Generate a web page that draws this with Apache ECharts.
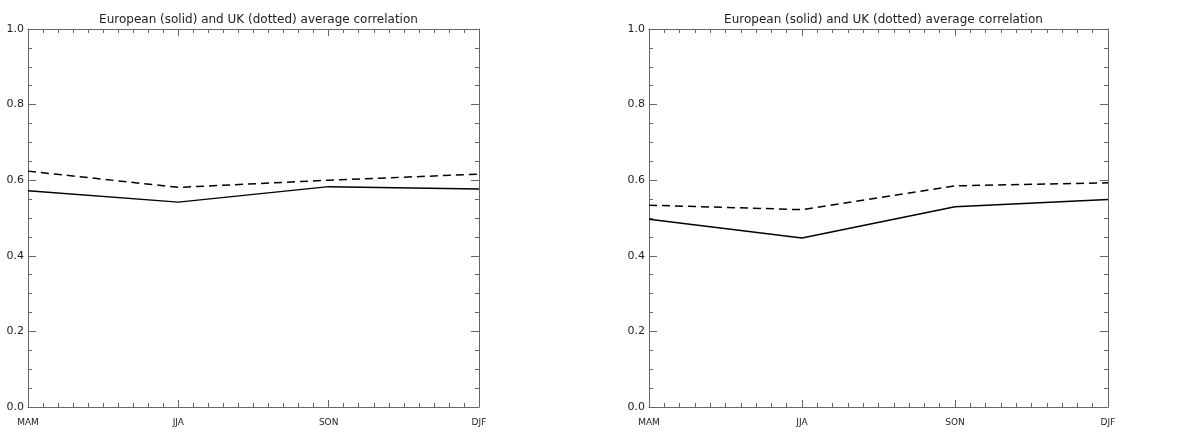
<!DOCTYPE html>
<html>
<head>
<meta charset="utf-8">
<script src="https://cdn.jsdelivr.net/npm/echarts@6/dist/echarts.min.js"></script>
<style>
  html, body { margin: 0; padding: 0; background: #fff; }
  #main { width: 1191px; height: 434px; }
</style>
</head>
<body>
<div id="main"></div>
<script>
// seasons on the x axis
const seasons = ['MAM', 'JJA', 'SON', 'DJF'];
const yTicks = [0, 0.2, 0.4, 0.6, 0.8, 1.0];
const titleText = 'European (solid) and UK (dotted) average correlation';

// left panel
const leftEurope = [0.572, 0.542, 0.583, 0.577];
const leftUK = [0.624, 0.581, 0.600, 0.616];
// right panel
const rightEurope = [0.497, 0.447, 0.530, 0.549];
const rightUK = [0.534, 0.522, 0.585, 0.593];

const chart = echarts.init(document.getElementById('main'));
const axisColor = '#666';
const fontFam = 'DejaVu Sans';

const grids = [
  { left: 28, top: 29, width: 451, height: 378 },
  { left: 649, top: 29, width: 459, height: 378 }
];

const toPairs = arr => arr.map((v, i) => [i, v]);

function xAxes(gi) {
  const base = {
    type: 'value', gridIndex: gi, min: 0, max: seasons.length - 1, interval: 1,
    axisLine: { onZero: false, lineStyle: { color: axisColor, width: 1 } },
    axisTick: { inside: true, length: 7, lineStyle: { color: axisColor } },
    minorTick: { show: true, splitNumber: 10, length: 4, lineStyle: { color: axisColor } },
    splitLine: { show: false }
  };
  return [
    Object.assign({}, base, {
      position: 'bottom',
      axisLabel: {
        color: '#222', fontFamily: fontFam, fontSize: 9, margin: 11,
        formatter: v => seasons[v] || ''
      }
    }),
    Object.assign({}, base, { position: 'top', axisLabel: { show: false } })
  ];
}

function yAxes(gi) {
  const base = {
    type: 'value', gridIndex: gi, min: 0, max: 1, interval: 0.2,
    axisLine: { show: true, onZero: false, lineStyle: { color: axisColor, width: 1 } },
    axisTick: { show: true, inside: true, length: 8, lineStyle: { color: axisColor } },
    minorTick: { show: true, splitNumber: 4, length: 4, lineStyle: { color: axisColor } },
    splitLine: { show: false }
  };
  return [
    Object.assign({}, base, {
      position: 'left',
      axisLabel: {
        color: '#222', fontFamily: fontFam, fontSize: 11, margin: 4,
        formatter: v => yTicks.includes(+v.toFixed(1)) ? v.toFixed(1) : ''
      }
    }),
    Object.assign({}, base, { position: 'right', axisLabel: { show: false } })
  ];
}

function lineSeries(data, axisIdx, dashed) {
  return {
    type: 'line', xAxisIndex: axisIdx, yAxisIndex: axisIdx,
    data: toPairs(data), symbol: 'none', silent: true,
    lineStyle: { color: '#000', width: 1.5, type: dashed ? [8, 5] : 'solid' }
  };
}

chart.setOption({
  animation: false,
  backgroundColor: '#fff',
  title: grids.map(g => ({
    text: titleText,
    left: g.left + g.width / 2, top: 9, textAlign: 'center',
    textStyle: { fontFamily: fontFam, fontSize: 12, fontWeight: 'normal', color: '#222' }
  })),
  grid: grids,
  xAxis: [...xAxes(0), ...xAxes(1)],
  yAxis: [...yAxes(0), ...yAxes(1)],
  series: [
    lineSeries(leftEurope, 0, false),
    lineSeries(leftUK, 0, true),
    lineSeries(rightEurope, 2, false),
    lineSeries(rightUK, 2, true)
  ]
});
</script>
</body>
</html>
